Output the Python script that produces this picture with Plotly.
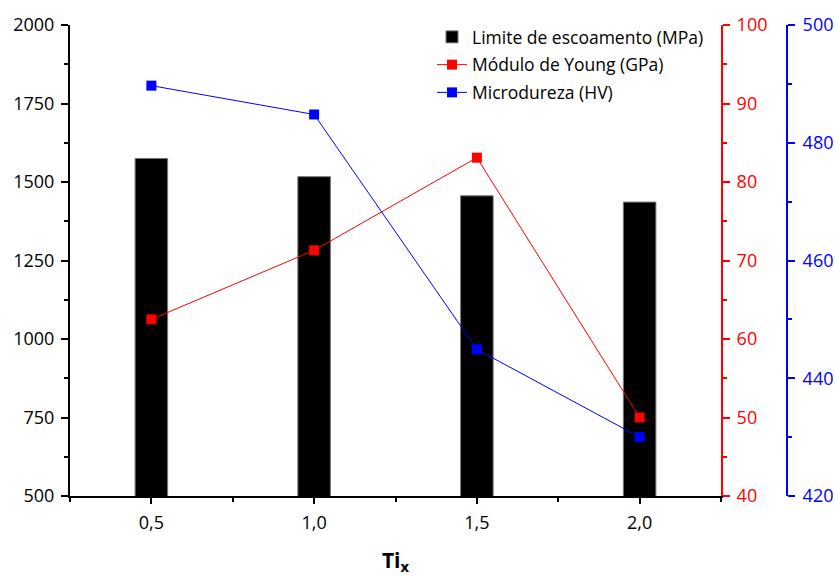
import plotly.graph_objects as go

x_vals = [0.5, 1.0, 1.5, 2.0]
limite_escoamento = [1575, 1517, 1456, 1436]
modulo_young = [62.5, 71.3, 83.1, 50.0]
microdureza = [489.7, 484.8, 444.9, 430.0]

FONT = "Open Sans"
fig = go.Figure()
fig.add_trace(go.Bar(x=x_vals, y=limite_escoamento, width=0.1, name="Limite de escoamento (MPa)",
                     marker=dict(color="black", line=dict(color="#777", width=1)), yaxis="y",
                     legendgroup="a"))
fig.add_trace(go.Scatter(x=x_vals, y=modulo_young, mode="lines+markers", name="Módulo de Young (GPa)",
                         line=dict(color="#ff0000", width=1), marker=dict(symbol="square", size=10, color="#ff0000"),
                         yaxis="y2", legendgroup="b"))
fig.add_trace(go.Scatter(x=x_vals, y=microdureza, mode="lines+markers", name="Microdureza (HV)",
                         line=dict(color="#0000ff", width=1), marker=dict(symbol="square", size=10, color="#0000ff"),
                         yaxis="y3", legendgroup="c"))

W, H = 835, 576
l, r, t, b = 70, 40, 25, 80
pw = W - l - r
ph = H - t - b
xdom_end = (721 - l) / pw
blue_pos = (787 - l) / pw

fig.update_layout(
    width=W, height=H, margin=dict(l=l, r=r, t=t, b=b, autoexpand=False),
    paper_bgcolor="white", plot_bgcolor="white",
    separators=", ",
    font=dict(family=FONT, size=18, color="black"),
    showlegend=True,
    legend=dict(x=(432 - l) / pw, y=1 + 6 / ph, xanchor="left", yanchor="top", bgcolor="rgba(0,0,0,0)",
                font=dict(size=17.5), tracegroupgap=2, traceorder="grouped", itemwidth=30),
    xaxis=dict(domain=[0, xdom_end], range=[0.25, 2.25], tickmode="linear", tick0=0.5, dtick=0.5,
               tickformat=".1f", showgrid=False, zeroline=False, showline=True, linecolor="black", linewidth=2,
               ticks="outside", ticklen=6, tickwidth=2, tickcolor="black", automargin=False, ticklabelstandoff=3,
               minor=dict(ticks="outside", ticklen=4, tickwidth=2, tickcolor="black", tick0=0.25, dtick=0.25, showgrid=False),
               title=dict(text="<b>Ti<sub>x</sub></b>", font=dict(size=21), standoff=22)),
    yaxis=dict(range=[500, 2000], tickmode="linear", tick0=500, dtick=250, showgrid=False, zeroline=False,
               showline=True, linecolor="black", linewidth=2, ticks="outside", ticklen=7, tickwidth=2,
               tickcolor="black", automargin=False, ticklabelstandoff=3,
               minor=dict(ticks="outside", ticklen=4, tickwidth=2, tickcolor="black", dtick=125, showgrid=False)),
    yaxis2=dict(range=[40, 100], overlaying="y", side="right", anchor="x", tickmode="linear", tick0=40, dtick=10,
                showgrid=False, zeroline=False, showline=True, linecolor="#ff0000", linewidth=2, automargin=False,
                ticks="outside", ticklen=7, tickwidth=2, tickcolor="#ff0000", tickfont=dict(color="#ff0000"),
                ticklabelstandoff=3,
                minor=dict(ticks="outside", ticklen=4, tickwidth=2, tickcolor="#ff0000", dtick=5, showgrid=False)),
    yaxis3=dict(range=[420, 500], overlaying="y", side="right", anchor="free", position=blue_pos,
                tickmode="linear", tick0=420, dtick=20, automargin=False, ticklabelstandoff=4,
                showgrid=False, zeroline=False, showline=True, linecolor="#0000ff", linewidth=2,
                ticks="outside", ticklen=7, tickwidth=2, tickcolor="#0000ff", tickfont=dict(color="#0000ff"),
                minor=dict(ticks="outside", ticklen=4, tickwidth=2, tickcolor="#0000ff", dtick=10, showgrid=False)),
)

fig.write_html("out.html")
